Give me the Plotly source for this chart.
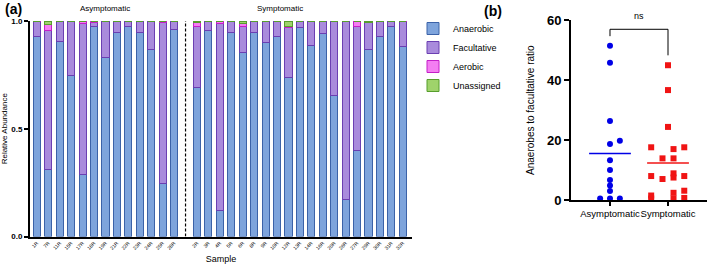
import numpy as np
import plotly.graph_objects as go

# ---------------- data: panel (a) ----------------
asym_samples = ["1R", "7R", "11R", "15R", "17R", "18R", "19R", "21R", "22R", "23R", "24R", "25R", "28R"]
sym_samples = ["2R", "3R", "4R", "5R", "6R", "8R", "9R", "10R", "12R", "13R", "14R", "16R", "20R",
               "26R", "27R", "29R", "30R", "31R", "32R"]

asym_anaerobic = [0.930, 0.310, 0.905, 0.745, 0.290, 0.975, 0.830, 0.948, 0.975, 0.948, 0.866, 0.244, 0.960]
asym_facultative = [0.067, 0.645, 0.095, 0.255, 0.700, 0.020, 0.170, 0.052, 0.025, 0.052, 0.134, 0.748, 0.040]
asym_aerobic = [0.003, 0.030, 0.000, 0.000, 0.010, 0.005, 0.000, 0.000, 0.000, 0.000, 0.000, 0.008, 0.000]
asym_unassigned = [0.000, 0.015, 0.000, 0.000, 0.000, 0.000, 0.000, 0.000, 0.000, 0.000, 0.000, 0.000, 0.000]

sym_anaerobic = [0.690, 0.957, 0.120, 0.945, 0.855, 0.945, 0.900, 0.930, 0.736, 0.968, 0.886, 0.942, 0.653,
                 0.170, 0.400, 0.867, 0.930, 0.976, 0.880]
sym_facultative = [0.285, 0.043, 0.870, 0.055, 0.120, 0.055, 0.100, 0.070, 0.234, 0.032, 0.114, 0.058, 0.347,
                   0.830, 0.575, 0.128, 0.070, 0.024, 0.117]
sym_aerobic = [0.020, 0.000, 0.010, 0.000, 0.015, 0.000, 0.000, 0.000, 0.005, 0.000, 0.000, 0.000, 0.000,
               0.000, 0.025, 0.000, 0.000, 0.000, 0.003]
sym_unassigned = [0.005, 0.000, 0.000, 0.000, 0.010, 0.000, 0.000, 0.000, 0.025, 0.000, 0.000, 0.000, 0.000,
                  0.000, 0.000, 0.005, 0.000, 0.000, 0.000]

categories_a = ["Anaerobic", "Facultative", "Aerobic", "Unassigned"]

# ---------------- data: panel (b) ----------------
groups_b = ["Asymptomatic", "Symptomatic"]
asym_ratio = [51.5, 45.8, 26.4, 18.7, 19.8, 13.3, 10.0, 6.7, 4.8, 3.0, 0.5, 0.5, 0.5]
asym_jitter = [0, 0, 0, 0, 0.17, 0, 0, 0, 0, 0, -0.17, 0, 0.17]
sym_ratio = [45.0, 36.7, 24.4, 17.6, 17.0, 17.6, 13.9, 13.9, 8.0, 7.0, 8.9, 7.5, 8.0, 1.5, 0.5, 2.4, 3.1, 0.5, 0.7]
sym_jitter = [0, 0, 0, -0.29, 0.095, 0.28, -0.095, 0.095, -0.29, -0.095, 0.095, 0.095, 0.28, -0.29, -0.29,
              0.095, 0.28, 0.095, 0.28]

# ---------------- styles ----------------
FONT = "Liberation Sans, Arial, sans-serif"
fills = {"Anaerobic": "#7ea4dc", "Facultative": "#a98bdc", "Aerobic": "#f47ef2", "Unassigned": "#9fd36b"}
edges = {"Anaerobic": "#3b62a8", "Facultative": "#6b3fb2", "Aerobic": "#c41fc8", "Unassigned": "#579e2d"}

W, H = 709, 264
def px(x):
    return x / W
def py(y):
    return 1 - y / H

SPACER = " "
cat_order = asym_samples + [SPACER] + sym_samples
samples = asym_samples + sym_samples
series = {
    "Anaerobic": asym_anaerobic + sym_anaerobic,
    "Facultative": asym_facultative + sym_facultative,
    "Aerobic": asym_aerobic + sym_aerobic,
    "Unassigned": asym_unassigned + sym_unassigned,
}

fig = go.Figure()
for name in categories_a:
    fig.add_trace(go.Bar(
        x=samples, y=series[name], name=name,
        marker=dict(color=fills[name], line=dict(color=edges[name], width=1)),
        width=0.62, xaxis="x", yaxis="y",
    ))

# panel (b) scatter
fig.add_trace(go.Scatter(
    x=[0 + j for j in asym_jitter], y=asym_ratio, mode="markers",
    marker=dict(symbol="circle", size=6, color="#0000e6"),
    xaxis="x2", yaxis="y2", showlegend=False, cliponaxis=False,
))
fig.add_trace(go.Scatter(
    x=[1 + j for j in sym_jitter], y=sym_ratio, mode="markers",
    marker=dict(symbol="square", size=6, color="#f01414"),
    xaxis="x2", yaxis="y2", showlegend=False, cliponaxis=False,
))
# mean lines
for gi, (vals, col) in enumerate([(asym_ratio, "#0000e6"), (sym_ratio, "#f01414")]):
    m = float(np.mean(vals))
    fig.add_trace(go.Scatter(
        x=[gi - 0.36, gi + 0.36], y=[m, m], mode="lines",
        line=dict(color=col, width=1.5), xaxis="x2", yaxis="y2", showlegend=False,
        hoverinfo="skip",
    ))
# significance bracket
fig.add_trace(go.Scatter(
    x=[0, 0, 1, 1], y=[54.7, 57.0, 57.0, 48.3], mode="lines",
    line=dict(color="black", width=1), xaxis="x2", yaxis="y2", showlegend=False,
    cliponaxis=False, hoverinfo="skip",
))

fig.update_layout(
    width=W, height=H, margin=dict(l=0, r=0, t=0, b=0),
    paper_bgcolor="white", plot_bgcolor="white",
    barmode="stack",
    font=dict(family=FONT, color="black"),
    showlegend=True,
    legend=dict(x=px(413), y=py(14), xanchor="left", yanchor="top",
                font=dict(size=9, family=FONT), bgcolor="rgba(0,0,0,0)",
                traceorder="normal", itemwidth=30),
    xaxis=dict(domain=[px(30), px(412)], type="category", categoryorder="array",
               categoryarray=cat_order, range=[-0.6, 32.8], automargin=False,
               showline=True, linecolor="black", linewidth=2, ticks="",
               tickangle=-45, tickfont=dict(size=5), showgrid=False, zeroline=False,
               title=dict(text="Sample", font=dict(size=9), standoff=10)),
    yaxis=dict(domain=[py(236.5), py(21)], range=[0, 1], tickvals=[0, 0.5, 1.0],
               ticktext=["<b>0.0</b>", "<b>0.5</b>", "<b>1.0</b>"], automargin=False,
               showline=True, linecolor="black", linewidth=2, ticks="outside",
               ticklen=4, tickwidth=1.5, tickcolor="black", tickfont=dict(size=8),
               showgrid=False, zeroline=False,
               title=dict(text="Relative Abundance", font=dict(size=8), standoff=2)),
    xaxis2=dict(domain=[px(571), px(707)], range=[-0.672, 1.672], tickvals=[0, 1],
                ticktext=groups_b, showline=True, linecolor="black", linewidth=2,
                ticks="outside", ticklen=4, tickwidth=1.5, tickcolor="black", tickangle=0,
                tickfont=dict(size=9.5), showgrid=False, zeroline=False, anchor="y2",
                automargin=False),
    yaxis2=dict(domain=[py(200), py(20.3)], range=[0, 60], tickvals=[0, 20, 40, 60],
                ticktext=["<b>0</b>", "<b>20</b>", "<b>40</b>", "<b>60</b>"],
                showline=True, linecolor="black", linewidth=2, ticks="outside",
                ticklen=5, tickwidth=2, tickcolor="black", tickfont=dict(size=13),
                showgrid=False, zeroline=False, anchor="x2", automargin=False,
                title=dict(text="Anaerobes to facultative ratio", font=dict(size=10), standoff=10)),
    shapes=[dict(type="line", xref="x", yref="y", x0=SPACER, x1=SPACER, y0=0, y1=1.016,
                 line=dict(color="black", width=1.2, dash="3px,2px"))],
    annotations=[
        dict(text="<b>(a)</b>", x=px(3), y=py(-1), xref="paper", yref="paper",
             xanchor="left", yanchor="top", showarrow=False, font=dict(size=14)),
        dict(text="<b>(b)</b>", x=px(482), y=py(1), xref="paper", yref="paper",
             xanchor="left", yanchor="top", showarrow=False, font=dict(size=14)),
        dict(text="Asymptomatic", x=px(105), y=py(9), xref="paper", yref="paper",
             xanchor="center", yanchor="middle", showarrow=False, font=dict(size=8)),
        dict(text="Symptomatic", x=px(280), y=py(9), xref="paper", yref="paper",
             xanchor="center", yanchor="middle", showarrow=False, font=dict(size=8)),
        dict(text="ns", x=px(639), y=py(16), xref="paper", yref="paper",
             xanchor="center", yanchor="middle", showarrow=False, font=dict(size=9)),
    ],
)

fig.write_html("out.html")
